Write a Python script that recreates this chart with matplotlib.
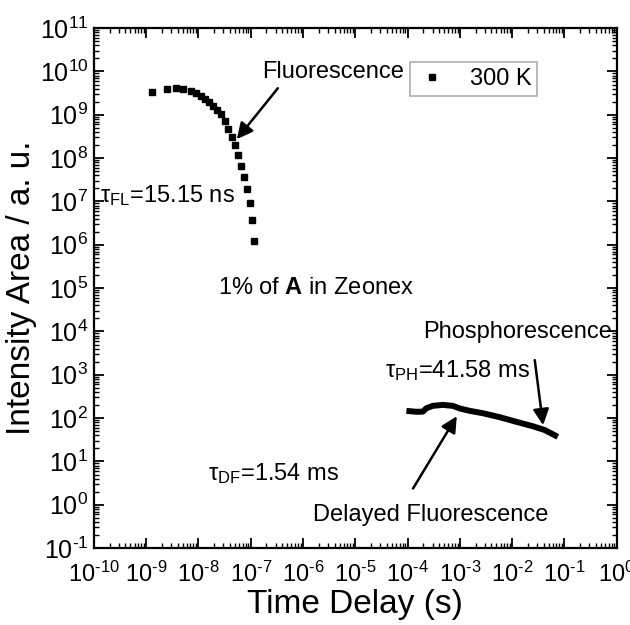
import numpy as np
import matplotlib
matplotlib.use('Agg')
import matplotlib.pyplot as plt
from matplotlib.ticker import LogLocator, NullFormatter, FuncFormatter

plt.rcParams['font.family'] = ['Liberation Sans', 'DejaVu Sans']
plt.rcParams['mathtext.fontset'] = 'custom'
plt.rcParams['mathtext.rm'] = 'Liberation Sans'
plt.rcParams['mathtext.it'] = 'Liberation Sans:italic'
plt.rcParams['mathtext.bf'] = 'Liberation Sans:bold'

# prompt fluorescence (ns range)
fl_time = [1.27e-9, 2.52e-9, 3.70e-9, 5.09e-9, 7.06e-9, 8.91e-9, 1.10e-8, 1.32e-8,
           1.60e-8, 1.91e-8, 2.28e-8, 2.68e-8, 3.20e-8, 3.70e-8, 4.41e-8, 4.97e-8,
           5.74e-8, 6.38e-8, 7.38e-8, 8.53e-8, 9.61e-8, 1.06e-7, 1.18e-7]
fl_int = [3.28e9, 3.91e9, 4.12e9, 3.85e9, 3.52e9, 3.11e9, 2.74e9, 2.30e9,
          1.96e9, 1.58e9, 1.28e9, 1.04e9, 7.14e8, 4.67e8, 3.10e8, 2.0e8,
          1.2e8, 6.7e7, 3.7e7, 1.89e7, 9.3e6, 3.7e6, 1.21e6]

# delayed fluorescence + phosphorescence (ms range)
df_time = [9.5e-5, 1.48e-4, 1.95e-4, 2.30e-4, 3.03e-4, 4.71e-4, 7.31e-4, 9.95e-4,
           1.55e-3, 2.74e-3, 5.79e-3, 1.21e-2, 2.48e-2, 4.2e-2, 7.45e-2]
df_int = [147, 140, 141, 170, 192, 202, 192, 167, 147, 130, 105, 82, 65, 53, 37]


def pow10(v, pos):
    e = int(round(np.log10(v)))
    return r'$10^{\text{%d}}$' % e


fig = plt.figure(figsize=(6.3, 6.25), dpi=100)
ax = fig.add_axes([0.149, 0.123, 0.83, 0.832])

ax.plot(fl_time, fl_int, 's', color='k', ms=3.8, label='300 K')
ax.plot(df_time, df_int, '-', color='k', lw=4.3, solid_capstyle='butt')

ax.set_xscale('log')
ax.set_yscale('log')
ax.set_xlim(1e-10, 1)
ax.set_ylim(1e-1, 1e11)

for axis in (ax.xaxis, ax.yaxis):
    axis.set_major_locator(LogLocator(base=10, numticks=30))
    axis.set_minor_locator(LogLocator(base=10, subs=np.arange(2, 10), numticks=30))
    axis.set_major_formatter(FuncFormatter(pow10))
    axis.set_minor_formatter(NullFormatter())

ax.tick_params(which='both', direction='in', top=True, right=True)
ax.tick_params(which='major', length=7, width=1.3)
ax.tick_params(which='minor', length=3.5, width=1)
ax.tick_params(axis='x', which='major', pad=10, labelsize=17)
ax.tick_params(axis='y', which='major', pad=4, labelsize=18)
for s in ax.spines.values():
    s.set_linewidth(1.6)

ax.set_xlabel('Time Delay (s)', fontsize=24, labelpad=1)
ax.set_ylabel('Intensity Area / a. u.', fontsize=24, labelpad=2)

leg = ax.legend(loc='upper left', bbox_to_anchor=(0.604, 0.935), borderaxespad=0,
                fancybox=False, edgecolor='#999999', fontsize=17, handlelength=1.4,
                borderpad=0.25, handletextpad=0.9)
leg.get_frame().set_linewidth(1.2)

arrow = dict(arrowstyle='-|>', color='k', lw=1.8, mutation_scale=24,
             shrinkA=0, shrinkB=0)
ax.annotate('', xy=(5.42e-8, 2.74e8), xytext=(3.3e-7, 4.1e9), arrowprops=arrow)
ax.text(1.63e-7, 9.7e9, 'Fluorescence', fontsize=17, va='center', ha='left')
ax.text(1.3e-10, 1.4e7, r'τ$_{\mathrm{FL}}$=15.15 ns', fontsize=17, va='center')
ax.text(2.35e-8, 1e5, r'1% of $\mathbf{A}$ in Zeonex', fontsize=17, va='center')
ax.text(1.98e-4, 9.8e3, 'Phosphorescence', fontsize=17, va='center')
ax.text(3.66e-5, 1.28e3, r'τ$_{\mathrm{PH}}$=41.58 ms', fontsize=17, va='center')
ax.annotate('', xy=(3.9e-2, 68.9), xytext=(2.7e-2, 2.18e3), arrowprops=arrow)
ax.annotate('', xy=(8.73e-4, 111), xytext=(1.27e-4, 2.38), arrowprops=arrow)
ax.text(1.56e-6, 0.577, 'Delayed Fluorescence', fontsize=17, va='center')
ax.text(1.53e-8, 5.37, r'τ$_{\mathrm{DF}}$=1.54 ms', fontsize=17, va='center')

fig.savefig('out.png', dpi=100)
